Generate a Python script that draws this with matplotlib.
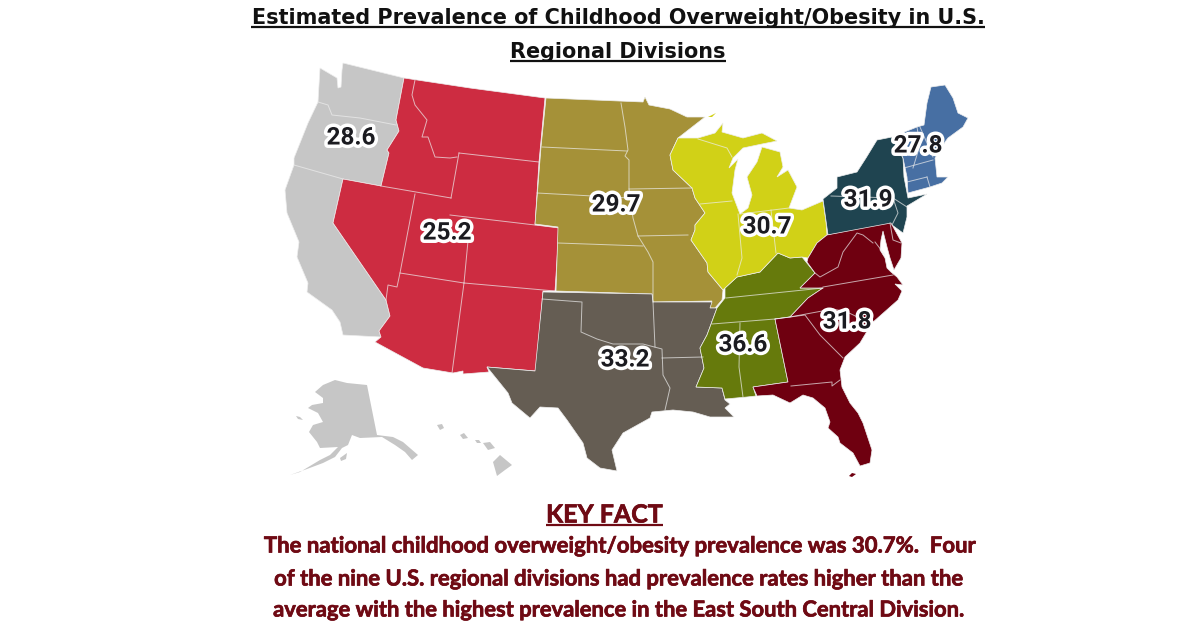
import matplotlib
matplotlib.use('Agg')
import matplotlib.pyplot as plt
import matplotlib.patheffects as pe
from matplotlib.patches import Polygon

# outlines, in picture pixels
pacific = [(343,63),(404,78),(396,120),(399,131),(387,150),(389,153),(381,186),(343,179),(333,223),(386,300),
           (390,316),(379,331),(381,337),(343,335),(340,322),(332,310),(307,292),(308,283),(297,257),(299,242),
           (287,213),(285,190),(294,165),(294,158),(308,123),(318,102),(320,68),(337,78),(338,88),(341,87),(342,70)]
mountain = [(404,78),(470,88),(545,98),(539,162),(535,225),(559,228),(555,291),(543,291),(536,371),(487,367),
            (489,372),(463,374),(463,371),(453,373),(423,368),(375,342),(381,337),(379,331),(390,316),(386,300),
            (333,223),(343,179),(381,186),(389,153),(387,150),(399,131),(396,120)]
west_north = [(546,98),(643,102),(645,97),(649,105),(670,109),(687,117),(705,117),(678,138),(670,155),(673,170),
              (692,188),(695,198),(705,213),(695,225),(695,230),(691,240),(707,263),(708,272),(723,290),(722,300),
              (715,308),(709,308),(712,301),(653,302),(652,294),(556,291),(558,227),(535,224),(541,147)]
west_south = [(543,292),(652,294),(653,302),(712,302),(710,308),(717,308),(707,335),(700,348),(704,368),(696,387),
              (722,388),(725,400),(730,404),(725,408),(734,417),(710,417),(693,412),(673,410),(652,412),(650,418),
              (623,433),(612,450),(617,471),(600,468),(587,458),(583,443),(567,420),(558,408),(540,407),(530,418),
              (512,403),(508,393),(487,367),(535,371)]
east_south = [(725,288),(737,277),(760,272),(778,253),(790,258),(802,257),(815,273),(800,288),(823,288),(808,298),
              (790,317),(775,319),(788,382),(753,387),(756,396),(747,397),(725,399),(722,388),(696,387),(704,368),
              (700,348),(707,335),(717,308),(725,298)]
east_north = [(678,138),(698,138),(715,133),(723,123),(722,132),(743,138),(762,133),(777,141),(762,144),(743,148),
              (733,158),(729,168),(738,159),(735,170),(732,193),(740,214),(748,208),(752,195),(747,177),(757,162),
              (762,147),(780,152),(783,167),(777,177),(788,170),(797,187),(789,208),(802,210),(823,201),(826,222),
              (827,235),(817,243),(808,258),(802,257),(790,258),(778,253),(760,272),(737,277),(725,288),(723,290),
              (708,272),(707,263),(691,240),(695,230),(695,225),(705,213),(695,198),(692,188),(673,170),(670,155)]
mid_atlantic = [(823,199),(837,188),(837,177),(857,172),(866,158),(877,140),(892,137),(903,158),(904,177),(908,198),
                (927,194),(907,206),(907,217),(903,233),(892,225),(828,235)]
new_england = [(931,87),(945,85),(953,98),(958,113),(968,118),(963,127),(948,138),(945,142),(935,158),(937,177),
               (948,177),(942,183),(930,187),(908,193),(907,177),(903,158),(892,137),(917,127),(924,125),(927,103)]
south_atlantic = [(827,235),(891,223),(902,243),(901,258),(894,270),(890,258),(887,247),(883,231),(881,240),(880,250),
                  (885,258),(887,268),(891,272),(897,277),(903,285),(895,284),(902,291),(898,300),(872,323),(860,343),
                  (845,357),(840,370),(842,387),(850,403),(858,413),(863,423),(872,450),(870,463),(860,466),(853,453),
                  (840,443),(838,437),(828,428),(830,422),(825,408),(813,398),(803,395),(790,403),(773,395),(757,396),
                  (753,387),(788,382),(775,319),(790,317),(808,298),(823,288),(800,288),(815,273),(807,262),(808,258),
                  (817,243)]
alaska = [(315,392),(323,385),(335,380),(347,383),(367,385),(377,435),(393,437),(403,442),(418,455),(412,460),
          (405,452),(395,445),(382,437),(360,438),(352,435),(348,445),(342,448),(335,457),(323,463),(307,469),
          (290,475),(300,472),(320,460),(330,455),(338,447),(320,448),(317,442),(309,432),(313,425),(323,422),
          (318,413),(308,408),(312,405),(323,403),(323,398)]
kodiak = [(340,458),(347,453),(346,459),(341,461)]
st_lawrence = [(296,416),(300,417),(303,420),(298,419)]
hawaii_big = [(493,462),(500,455),(512,465),(505,470),(497,476)]
hawaii_maui = [(483,443),(490,442),(495,448),(488,450)]
hawaii_oahu = [(475,440),(479,440),(481,443),(477,443)]
hawaii_molokai = [(460,435),(464,433),(468,438),(463,439)]
kauai = [(437,425),(442,424),(444,428),(440,430)]
fl_keys = [(852,473),(856,474),(852,477),(849,476)]
isle_royale = [(708,117),(716,113),(712,117)]

# state lines inside the divisions
state_lines = [
    [(318,102),(328,105),(332,115),(360,118),(396,125)],
    [(294,165),(343,179)],
    [(415,80),(412,95),(415,105),(427,120),(422,137),(428,137),(435,157),(450,158),(457,157)],
    [(459,153),(539,162)], [(459,153),(451,198)], [(381,186),(451,198)], [(450,215),(535,225)],
    [(470,220),(464,283)], [(415,194),(400,273),(397,287),(388,285),(386,300)],
    [(400,273),(464,283),(555,291)], [(464,283),(452,373)],
    [(542,147),(627,151)],
    [(621,103),(625,127),(628,150),(625,156),(629,160),(629,189),(633,218),(638,236),(648,252),(653,262),(653,302)],
    [(537,193),(630,198)], [(629,189),(692,188)], [(638,236),(688,235)], [(558,243),(643,246)],
    [(542,299),(582,302),(581,332),(597,339),(613,344),(643,344),(662,349),(663,375),(670,388),(665,410)],
    [(653,302),(655,347)], [(662,358),(703,357)],
    [(726,298),(823,288)], [(712,324),(775,319)], [(740,323),(739,367),(743,397)],
    [(698,139),(727,148),(732,157)], [(700,204),(732,201)], [(738,214),(742,258),(737,275)],
    [(771,210),(776,253)], [(740,214),(789,208)],
    [(831,196),(893,198),(907,207)], [(893,198),(898,213),(892,225)],
    [(917,127),(920,145),(913,168)], [(904,168),(933,160)], [(907,182),(927,177)], [(927,177),(930,187)],
    [(920,127),(933,157)],
    [(823,287),(893,275)],
    [(815,273),(820,277),(838,267),(843,252),(857,233),(863,235),(873,243)], [(875,242),(885,255)],
    [(890,223),(893,240),(901,243)],
    [(790,317),(833,309),(847,312),(870,323)], [(775,319),(805,315),(820,335),(843,358)],
    [(791,386),(832,382),(832,386),(840,380)],
]

divisions = [pacific, mountain, west_north, west_south, east_south, east_north, mid_atlantic, new_england, south_atlantic]
division_colors = ['#c6c6c6', '#cd2c41', '#a59138', '#655d53', '#667a0c', '#d1d117', '#1f4450', '#476fa3', '#6f0010']
grey_islands = [alaska, kodiak, st_lawrence, hawaii_big, hawaii_maui, hawaii_oahu, hawaii_molokai, kauai]

values = ['28.6', '25.2', '29.7', '33.2', '36.6', '30.7', '31.9', '27.8', '31.8']
value_x = [351, 447, 616, 625, 743, 767, 868, 918, 847]
value_y = [138, 233, 205, 360, 345, 227, 200, 146, 322]

title_lines = ['Estimated Prevalence of Childhood Overweight/Obesity in U.S.', 'Regional Divisions']
fact_head = 'KEY FACT'
fact_lines = ['The national childhood overweight/obesity prevalence was 30.7%.  Four',
              'of the nine U.S. regional divisions had prevalence rates higher than the',
              'average with the highest prevalence in the East South Central Division.']
fact_color = '#6f0a14'

fig = plt.figure(figsize=(12, 6.28), dpi=100)
ax = fig.add_axes([0, 0, 1, 1])
ax.set_xlim(0, 1200)
ax.set_ylim(628, 0)
ax.axis('off')


def fitted(txt, x0, x1, y, under_y=None, **kw):
    # scale the font so the line spans x0..x1
    t = ax.text((x0 + x1) / 2, y, txt, ha='center', va='center', fontsize=14, **kw)
    r = fig.canvas.get_renderer()
    w = t.get_window_extent(r).width
    t.set_fontsize(14 * (x1 - x0) / w)
    if under_y is not None:
        ax.plot([x0, x1], [under_y, under_y], color=kw['color'], lw=1.6, solid_capstyle='butt')
    return t


for pts, col in zip(divisions, division_colors):
    ax.add_patch(Polygon(pts, closed=True, facecolor=col, edgecolor='#eeeeee', lw=0.5))
ax.add_patch(Polygon(fl_keys, closed=True, facecolor=division_colors[-1], edgecolor='none'))
ax.add_patch(Polygon(isle_royale, closed=True, facecolor=division_colors[5], edgecolor='none'))
for pts in grey_islands:
    ax.add_patch(Polygon(pts, closed=True, facecolor='#c6c6c6', edgecolor='none'))
for line in state_lines:
    xs, ys = zip(*line)
    ax.plot(xs, ys, color='#eeeeee', lw=0.7, alpha=0.7)

for v, x, y in zip(values, value_x, value_y):
    ax.text(x, y, v, ha='center', va='center', fontsize=17.5, family='Roboto', weight='bold', color='#1b1b20',
            path_effects=[pe.withStroke(linewidth=5, foreground='white')])

thick = [pe.withStroke(linewidth=0.5, foreground=fact_color)]
fitted(title_lines[0], 251, 985, 18, under_y=27, family='DejaVu Sans', weight='bold', color='#111111')
fitted(title_lines[1], 510, 726, 52, under_y=61, family='DejaVu Sans', weight='bold', color='#111111')
fitted(fact_head, 546, 663, 515, under_y=525, family='Lato', weight='bold', color=fact_color, path_effects=thick)
fitted(fact_lines[0], 262, 978, 546, family='Lato', weight='bold', color=fact_color, path_effects=thick)
fitted(fact_lines[1], 272, 966, 579, family='Lato', weight='bold', color=fact_color, path_effects=thick)
fitted(fact_lines[2], 272, 968, 610, family='Lato', weight='bold', color=fact_color, path_effects=thick)

fig.savefig('out.png', dpi=100)
